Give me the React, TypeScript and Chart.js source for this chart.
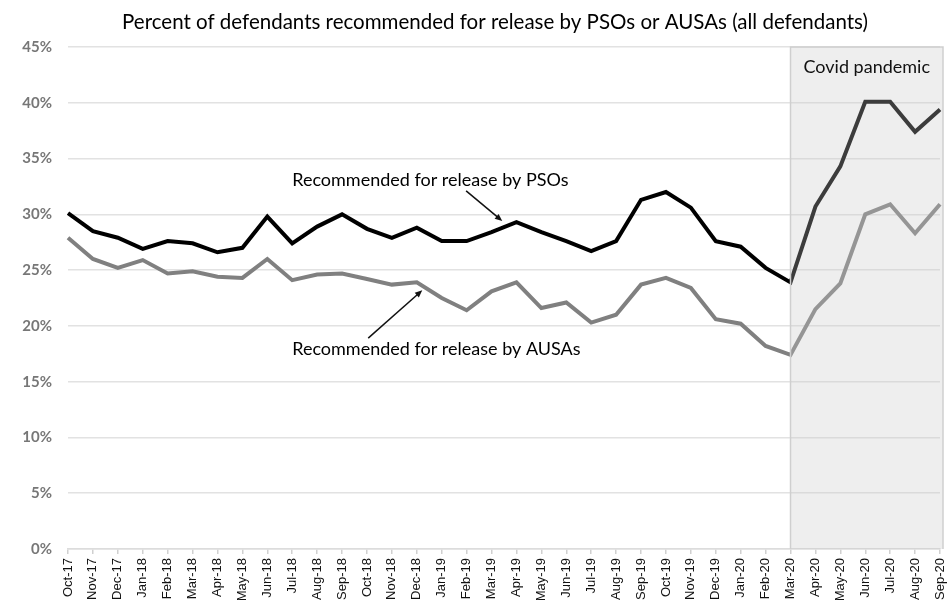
import React, { useEffect, useRef } from "react";
import { Chart, registerables } from "chart.js";

Chart.register(...registerables);

// Monthly categories, Oct 2017 – Sep 2020
const months = [
  "Oct-17", "Nov-17", "Dec-17", "Jan-18", "Feb-18", "Mar-18", "Apr-18", "May-18", "Jun-18",
  "Jul-18", "Aug-18", "Sep-18", "Oct-18", "Nov-18", "Dec-18", "Jan-19", "Feb-19", "Mar-19",
  "Apr-19", "May-19", "Jun-19", "Jul-19", "Aug-19", "Sep-19", "Oct-19", "Nov-19", "Dec-19",
  "Jan-20", "Feb-20", "Mar-20", "Apr-20", "May-20", "Jun-20", "Jul-20", "Aug-20", "Sep-20",
];

// Percent recommended for release by Pretrial Services Officers
const psoPct = [
  30.1, 28.5, 27.9, 26.9, 27.6, 27.4, 26.6, 27.0, 29.8, 27.4, 28.9, 30.0,
  28.7, 27.9, 28.8, 27.6, 27.6, 28.4, 29.3, 28.4, 27.6, 26.7, 27.6, 31.3,
  32.0, 30.6, 27.6, 27.1, 25.2, 23.9, 30.7, 34.3, 40.1, 40.1, 37.4, 39.4,
];

// Percent recommended for release by Assistant U.S. Attorneys
const ausaPct = [
  27.9, 26.0, 25.2, 25.9, 24.7, 24.9, 24.4, 24.3, 26.0, 24.1, 24.6, 24.7,
  24.2, 23.7, 23.9, 22.5, 21.4, 23.1, 23.9, 21.6, 22.1, 20.3, 21.0, 23.7,
  24.3, 23.4, 20.6, 20.2, 18.2, 17.4, 21.5, 23.8, 30.0, 30.9, 28.3, 30.9,
];

const yTicks = [0, 5, 10, 15, 20, 25, 30, 35, 40, 45];

const TITLE = "Percent of defendants recommended for release by PSOs or AUSAs (all defendants)";
const pandemicStart = "Mar-20";
const pandemicLabel = "Covid pandemic";

// Callout labels with arrows, positioned in data space (category index, percent)
const callouts = [
  { text: "Recommended for release by PSOs", at: [9.0, 33.1], from: [15.98, 32.1], to: [17.43, 29.4] },
  { text: "Recommended for release by AUSAs", at: [9.0, 17.9], from: [12.05, 18.9], to: [14.22, 23.2] },
];

const LABEL_FONT = "Lato, 'Open Sans', sans-serif";

const decorPlugin = {
  id: "decor",
  afterDatasetsDraw(chart: any) {
    const { ctx, chartArea, scales } = chart;
    const xs = scales.x;
    const ys = scales.y;
    const x0 = xs.getPixelForValue(months.indexOf(pandemicStart));
    const x1 = chartArea.right + 3;
    const y0 = ys.getPixelForValue(45);
    const y1 = ys.getPixelForValue(0);

    // translucent shading over the pandemic months
    ctx.save();
    ctx.fillStyle = "rgba(200,200,200,0.3)";
    ctx.fillRect(x0, y0, x1 - x0, y1 - y0);
    ctx.strokeStyle = "#cfcfcf";
    ctx.lineWidth = 1.5;
    ctx.beginPath();
    ctx.moveTo(x0, y1);
    ctx.lineTo(x0, y0);
    ctx.lineTo(x1, y0);
    ctx.lineTo(x1, y1);
    ctx.stroke();

    ctx.fillStyle = "#111";
    ctx.font = `18px ${LABEL_FONT}`;
    ctx.textAlign = "center";
    ctx.textBaseline = "middle";
    ctx.fillText(pandemicLabel, (x0 + x1) / 2, y0 + 20);

    // chart title
    ctx.font = `20.5px ${LABEL_FONT}`;
    ctx.fillStyle = "#000";
    ctx.fillText(TITLE, (chartArea.left + chartArea.right) / 2 - 9, 22);

    // callouts
    for (const c of callouts) {
      const tx = xs.getPixelForValue(c.at[0]);
      const ty = ys.getPixelForValue(c.at[1]);
      ctx.font = `18px ${LABEL_FONT}`;
      ctx.fillStyle = "#000";
      ctx.textAlign = "left";
      ctx.fillText(c.text, tx, ty);

      const ax = xs.getPixelForValue(c.from[0]);
      const ay = ys.getPixelForValue(c.from[1]);
      const bx = xs.getPixelForValue(c.to[0]);
      const by = ys.getPixelForValue(c.to[1]);
      const ang = Math.atan2(by - ay, bx - ax);
      const head = 8;
      ctx.strokeStyle = "#111";
      ctx.lineWidth = 1.5;
      ctx.beginPath();
      ctx.moveTo(ax, ay);
      ctx.lineTo(bx - Math.cos(ang) * head * 0.8, by - Math.sin(ang) * head * 0.8);
      ctx.stroke();
      ctx.beginPath();
      ctx.moveTo(bx, by);
      ctx.lineTo(bx - head * Math.cos(ang - 0.4), by - head * Math.sin(ang - 0.4));
      ctx.lineTo(bx - head * Math.cos(ang + 0.4), by - head * Math.sin(ang + 0.4));
      ctx.closePath();
      ctx.fillStyle = "#111";
      ctx.fill();
    }
    ctx.restore();
  },
};

export default function App() {
  const canvasRef = useRef<HTMLCanvasElement | null>(null);

  useEffect(() => {
    if (!canvasRef.current) return;
    const chart = new Chart(canvasRef.current, {
      type: "line",
      data: {
        labels: months,
        datasets: [
          {
            label: "PSOs",
            data: psoPct,
            borderColor: "#000000",
            borderWidth: 4,
            pointRadius: 0,
            tension: 0,
          },
          {
            label: "AUSAs",
            data: ausaPct,
            borderColor: "#808080",
            borderWidth: 4,
            pointRadius: 0,
            tension: 0,
          },
        ],
      },
      options: {
        responsive: false,
        animation: false,
        devicePixelRatio: 1,
        layout: { padding: { top: 47, right: 11, left: 0, bottom: 0 } },
        plugins: {
          legend: { display: false },
          tooltip: { enabled: false },
          title: { display: false },
        },
        scales: {
          x: {
            offset: false,
            grid: {
              drawOnChartArea: false,
              drawTicks: true,
              tickLength: 5,
              color: "#d0d0d0",
              lineWidth: 1.5,
            },
            border: { color: "#dcdcdc", width: 1.5 },
            ticks: {
              autoSkip: false,
              minRotation: 90,
              maxRotation: 90,
              padding: 4,
              color: "#111",
              font: { family: "'Liberation Sans', Arial, sans-serif", size: 13 },
            },
            afterFit(scale: any) {
              scale.height = 71;
              scale.paddingLeft = 0;
              scale.paddingRight = 0;
            },
          },
          y: {
            min: 0,
            max: 45,
            afterBuildTicks(scale: any) {
              scale.ticks = yTicks.map((v) => ({ value: v }));
            },
            grid: { color: "#e2e2e2", lineWidth: 1.5, drawTicks: false },
            border: { display: false },
            ticks: {
              padding: 16,
              color: "#777",
              font: { family: LABEL_FONT, size: 15, weight: "bold" },
              callback: (v: any) => `${v}%`,
            },
            afterFit(scale: any) {
              scale.width = 68;
            },
          },
        },
      },
      plugins: [decorPlugin],
    });
    return () => chart.destroy();
  }, []);

  return (
    <div
      style={{
        position: "fixed",
        top: 0,
        left: 0,
        width: 951,
        height: 600,
        overflow: "hidden",
        background: "#fff",
      }}
    >
      <canvas ref={canvasRef} width={951} height={620} style={{ display: "block" }} />
    </div>
  );
}
